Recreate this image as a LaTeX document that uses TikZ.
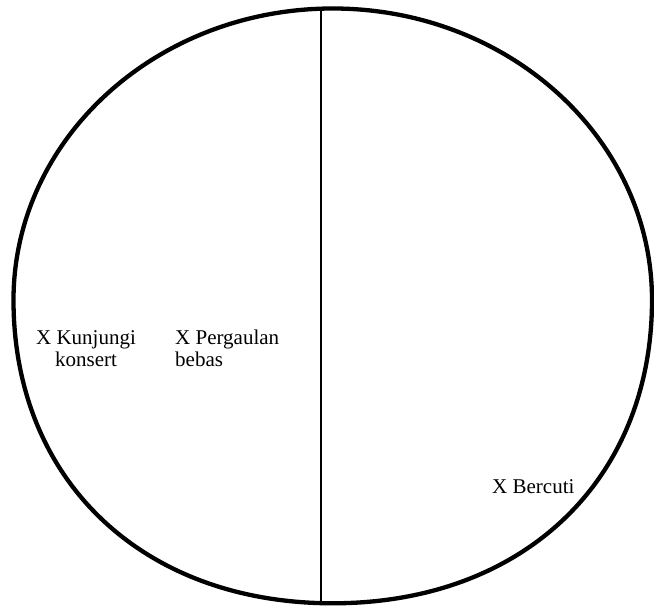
\documentclass[tikz,border=0pt]{standalone}
\usepackage{fontspec}
\setmainfont{Liberation Serif}
\begin{document}
\begin{tikzpicture}[x=1pt,y=1pt,
  lbl/.style={inner sep=0pt,font=\fontsize{21}{22}\selectfont},
  rim/.style={line width=4.3pt},
  divider/.style={line width=1.5pt}]
\useasboundingbox (0,0) rectangle (654,608);
\coordinate (L) at (13.5,308);
\coordinate (T) at (332.75,599.5);
\coordinate (R) at (652,308);
\coordinate (B) at (332.75,4.7);
\draw[rim] (L) .. controls (13.5,469) and (156.45,599.5) .. (T)
  .. controls (509.05,599.5) and (652,469) .. (R)
  .. controls (652,127.5) and (522.75,4.7) .. (B)
  .. controls (142.75,4.7) and (13.5,127.5) .. (L) -- cycle;
\coordinate (ltop) at (321,599.3);
\coordinate (lbot) at (321,4.9);
\draw[divider] (ltop) -- (lbot);
\node[lbl,align=center,anchor=base] (kon) at (86,241.5) {X Kunjungi\\konsert};
\node[lbl,align=left,anchor=base west] (per) at (175,241.5) {X Pergaulan\\bebas};
\node[lbl,anchor=base west] (ber) at (492,114) {X Bercuti};
\end{tikzpicture}
\end{document}
